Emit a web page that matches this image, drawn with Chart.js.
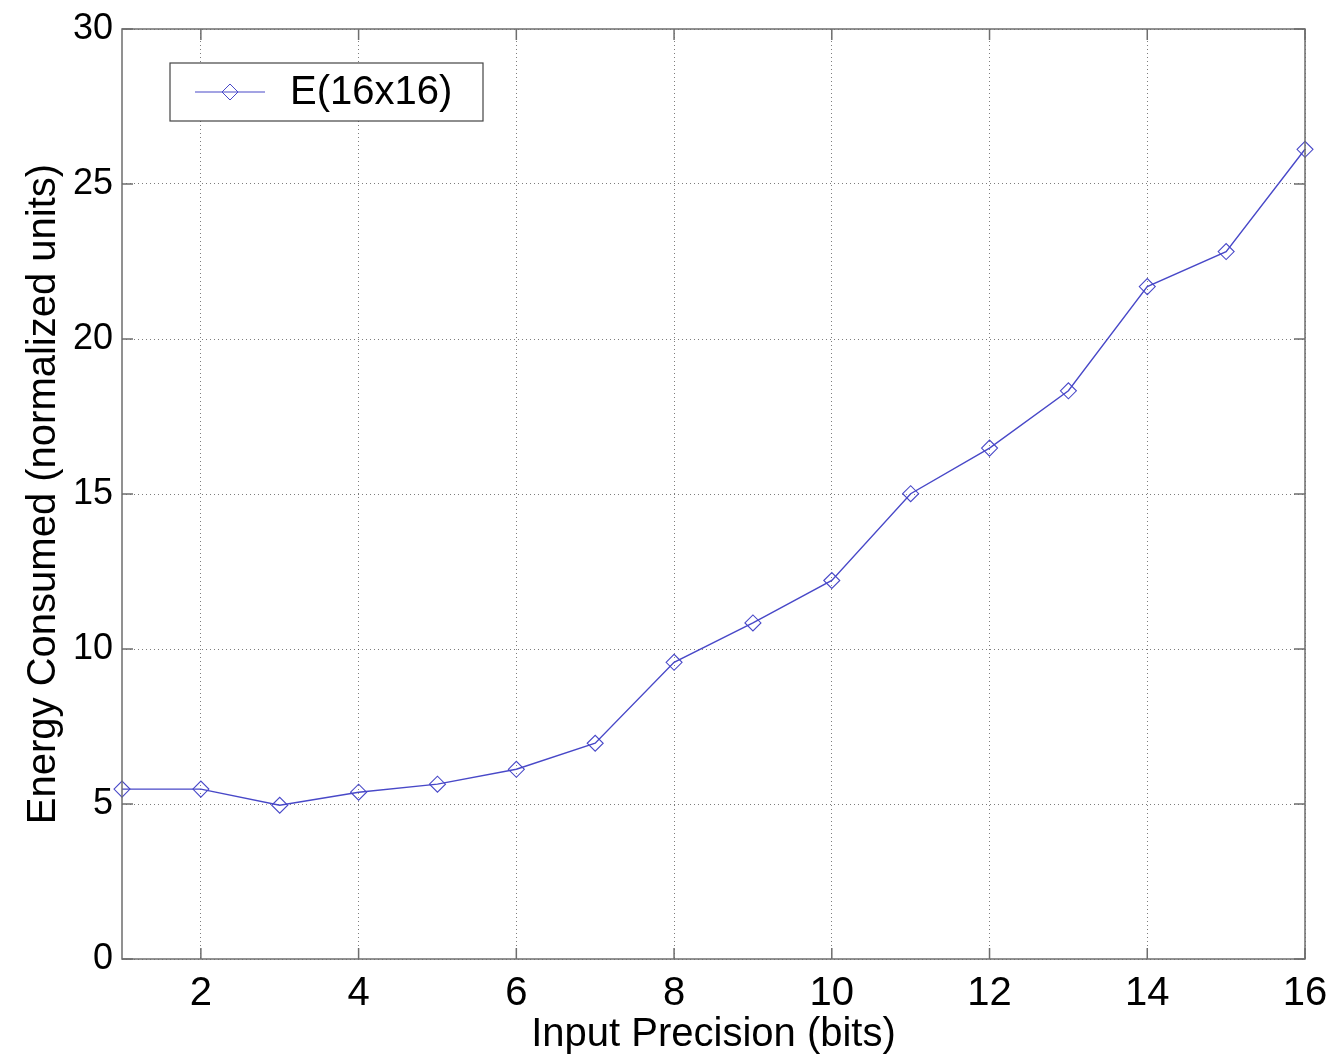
<!DOCTYPE html>
<html>
<head>
<meta charset="utf-8">
<script src="https://cdn.jsdelivr.net/npm/chart.js@4.4.0/dist/chart.umd.min.js"></script>
<style>
	body { margin: 0; background: #fff; }
	#wrap { width: 1333px; height: 1059px; }
</style>
</head>
<body>
<div id="wrap"><canvas id="energyChart"></canvas></div>
<script>
// data
const precisionBits = [1, 2, 3, 4, 5, 6, 7, 8, 9, 10, 11, 12, 13, 14, 15, 16];
const energy16x16 = [5.48, 5.48, 4.96, 5.38, 5.64, 6.12, 6.96, 9.57, 10.84, 12.21, 15.01, 16.48, 18.33, 21.69, 22.82, 26.12];
const xTickValues = [2, 4, 6, 8, 10, 12, 14, 16];
const yTickValues = [0, 5, 10, 15, 20, 25, 30];
const seriesLabel = "E(16x16)";

const lineColor = "#4848c8";
const axisColor = "#6e6e6e";
const fontFamily = "'Liberation Sans', Arial, Helvetica, sans-serif";

function diamond(ctx, x, y, r) {
	ctx.beginPath();
	ctx.moveTo(x, y - r);
	ctx.lineTo(x + r, y);
	ctx.lineTo(x, y + r);
	ctx.lineTo(x - r, y);
	ctx.closePath();
	ctx.stroke();
}

// matlab style box, inward ticks and legend
const framePlugin = {
	id: "frame",
	afterDatasetsDraw(chart) {
		const { ctx, chartArea: a, scales: { x, y } } = chart;
		ctx.save();
		ctx.strokeStyle = axisColor;
		ctx.lineWidth = 1.5;
		ctx.strokeRect(a.left, a.top, a.right - a.left, a.bottom - a.top);
		ctx.beginPath();
		x.ticks.forEach((t) => {
			const px = x.getPixelForValue(t.value);
			ctx.moveTo(px, a.bottom);
			ctx.lineTo(px, a.bottom - 11);
			ctx.moveTo(px, a.top);
			ctx.lineTo(px, a.top + 11);
		});
		y.ticks.forEach((t) => {
			const py = y.getPixelForValue(t.value);
			ctx.moveTo(a.left, py);
			ctx.lineTo(a.left + 11, py);
			ctx.moveTo(a.right, py);
			ctx.lineTo(a.right - 11, py);
		});
		ctx.stroke();

		// legend box
		const bx = a.left + 48, by = a.top + 34, bw = 313, bh = 58;
		ctx.fillStyle = "#fff";
		ctx.fillRect(bx, by, bw, bh);
		ctx.strokeStyle = "#444";
		ctx.lineWidth = 1.2;
		ctx.strokeRect(bx, by, bw, bh);
		const my = by + bh / 2;
		ctx.strokeStyle = lineColor;
		ctx.lineWidth = 1.2;
		ctx.beginPath();
		ctx.moveTo(bx + 25, my);
		ctx.lineTo(bx + 95, my);
		ctx.stroke();
		ctx.lineWidth = 1;
		diamond(ctx, bx + 60, my, 8);
		ctx.fillStyle = "#000";
		ctx.font = "40px " + fontFamily;
		ctx.textBaseline = "middle";
		ctx.textAlign = "left";
		ctx.fillText(chart.data.datasets[0].label, bx + 120, my + 1);
		ctx.restore();
	},
};

new Chart(document.getElementById("energyChart"), {
	type: "line",
	data: {
		datasets: [
			{
				label: seriesLabel,
				data: precisionBits.map((b, i) => ({ x: b, y: energy16x16[i] })),
				borderColor: lineColor,
				borderWidth: 1.4,
				pointStyle: "rectRot",
				pointRadius: 8,
				pointBorderWidth: 1.1,
				pointBorderColor: lineColor,
				pointBackgroundColor: "rgba(0,0,0,0)",
				tension: 0,
				clip: false,
			},
		],
	},
	options: {
		responsive: true,
		maintainAspectRatio: false,
		animation: false,
		layout: { padding: { left: 0, right: 28, top: 29, bottom: 0 } },
		plugins: {
			legend: { display: false },
			tooltip: { enabled: false },
		},
		scales: {
			x: {
				type: "linear",
				min: 1,
				max: 16,
				afterBuildTicks: (scale) => {
					scale.ticks = xTickValues.map((v) => ({ value: v }));
				},
				afterFit: (scale) => {
					scale.height = 100;
					scale.paddingLeft = 0;
					scale.paddingRight = 0;
				},
				grid: { color: "rgba(70,70,70,0.7)", lineWidth: 1, drawTicks: false },
				border: { display: false, dash: [1, 3] },
				ticks: {
					color: "#000",
					padding: 11,
					maxRotation: 0,
					font: { family: fontFamily, size: 40 },
				},
				title: {
					display: true,
					text: "Input Precision (bits)",
					color: "#000",
					padding: { top: 0, bottom: 0 },
					font: { family: fontFamily, size: 40 },
				},
			},
			y: {
				min: 0,
				max: 30,
				afterBuildTicks: (scale) => {
					scale.ticks = yTickValues.map((v) => ({ value: v }));
				},
				afterFit: (scale) => {
					scale.width = 122;
					scale.paddingTop = 0;
					scale.paddingBottom = 0;
				},
				grid: { color: "rgba(70,70,70,0.7)", lineWidth: 1, drawTicks: false },
				border: { display: false, dash: [1, 3] },
				ticks: {
					color: "#000",
					padding: 9,
					font: { family: fontFamily, size: 36 },
				},
				title: {
					display: true,
					text: "Energy Consumed (normalized units)",
					color: "#000",
					padding: { top: 20, bottom: 0 },
					font: { family: fontFamily, size: 40 },
				},
			},
		},
	},
	plugins: [framePlugin],
});
</script>
</body>
</html>
